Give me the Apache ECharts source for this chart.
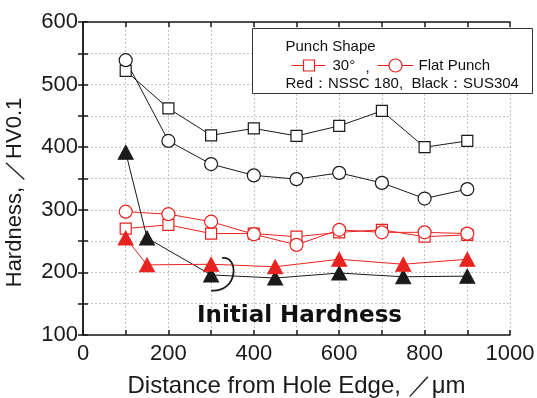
<!DOCTYPE html>
<html>
<head>
<meta charset="utf-8">
<script src="https://cdn.jsdelivr.net/npm/echarts@6/dist/echarts.min.js"></script>
<style>
  html, body { margin: 0; padding: 0; background: #fff; }
  #main { width: 537px; height: 398px; }
</style>
</head>
<body>
<div id="main"></div>
<script>
// distance from hole edge (um)
const xs = [100, 200, 300, 400, 500, 600, 700, 800, 900];
const triX = [100, 150, 300, 450, 600, 750, 900];

// SUS304 (black)
const susSquare = [522, 462, 419, 430, 418, 434, 458, 400, 410];
const susCircle = [539, 410, 373, 355, 349, 359, 343, 318, 333];
const susInitial = [392, 255, 196, 191, 199, 193, 194];

// NSSC 180 (red)
const nsscSquare = [270, 276, 262, 262, 257, 264, 268, 257, 260];
const nsscCircle = [297, 293, 281, 261, 244, 268, 264, 264, 262];
const nsscInitial = [255, 212, 213, 209, 221, 213, 221];

const RED = '#e8231f';
const BLK = '#1a1a1a';
const FONT = 'Liberation Sans, Arial, sans-serif';

function pairs(x, y) {
  return x.map((v, i) => [v, y[i]]);
}

function openSeries(name, xv, yv, symbol, size, color) {
  return {
    name: name, type: 'line', data: pairs(xv, yv),
    symbol: symbol, symbolSize: size,
    lineStyle: { color: color, width: 1 },
    itemStyle: { color: '#fff', borderColor: color, borderWidth: 1.2 },
    z: 3
  };
}

function triSeries(name, yv, color) {
  return {
    name: name, type: 'line', data: pairs(triX, yv),
    symbol: 'triangle', symbolSize: [15, 14],
    lineStyle: { color: color, width: 1 },
    itemStyle: { color: color, borderColor: color },
    z: 4
  };
}

const myChart = echarts.init(document.getElementById('main'), null, { renderer: 'canvas' });

const frameAxis = {
  min: 0, max: 1000, interval: 100,
  axisLine: { show: true, lineStyle: { color: BLK, width: 1.5 } },
  axisTick: { show: true, inside: true, length: 5, lineStyle: { color: BLK, width: 1.5 } },
  axisLabel: { show: false },
  splitLine: { show: false }
};

const option = {
  animation: false,
  backgroundColor: '#fff',
  grid: { left: 83, right: 27, top: 22, bottom: 63, outerBoundsMode: 'none', containLabel: false },
  xAxis: [{
    type: 'value', min: 0, max: 1000, interval: 100,
    name: 'Distance from Hole Edge, ／μm',
    nameLocation: 'middle', nameGap: 39,
    nameTextStyle: { fontFamily: FONT, fontSize: 24, color: BLK },
    axisLine: { show: true, lineStyle: { color: BLK, width: 1.5 } },
    axisTick: { show: true, inside: true, length: 5, lineStyle: { color: BLK, width: 1.5 } },
    axisLabel: {
      fontFamily: FONT, fontSize: 22, color: BLK, margin: 8,
      formatter: v => (v % 200 === 0 ? String(v) : '')
    },
    splitLine: { show: true, lineStyle: { color: '#c4c4c4', type: [2, 2], width: 1 } }
  }, Object.assign({}, frameAxis, { position: 'top' })],
  yAxis: [{
    type: 'value', min: 100, max: 600, interval: 50,
    name: 'Hardness, ／HV0.1',
    nameLocation: 'middle', nameGap: 57,
    nameTextStyle: { fontFamily: FONT, fontSize: 22, color: BLK, padding: [0, 28, 0, 0] },
    axisLine: { show: true, lineStyle: { color: BLK, width: 1.5 } },
    axisTick: { show: true, inside: true, length: 5, lineStyle: { color: BLK, width: 1.5 } },
    axisLabel: {
      fontFamily: FONT, fontSize: 22, color: BLK, margin: 5,
      formatter: v => (v % 100 === 0 ? String(v) : '')
    },
    splitLine: { show: true, lineStyle: { color: '#c4c4c4', type: [2, 2], width: 1 } }
  }, Object.assign({}, frameAxis, { min: 100, max: 600, interval: 50, position: 'right' })],
  series: [
    openSeries('SUS304 30°', xs, susSquare, 'rect', 11, BLK),
    openSeries('SUS304 Flat', xs, susCircle, 'circle', 13, BLK),
    openSeries('NSSC 30°', xs, nsscSquare, 'rect', 11, RED),
    openSeries('NSSC Flat', xs, nsscCircle, 'circle', 13, RED),
    triSeries('SUS304 Initial', susInitial, BLK),
    triSeries('NSSC Initial', nsscInitial, RED)
  ]
};

myChart.setOption(option);

// annotations placed through the chart's own scale
const p = (x, y) => myChart.convertToPixel({ gridIndex: 0 }, [x, y]);
const b0 = p(326, 223), b1 = p(365, 227), b2 = p(365, 168), b3 = p(300, 171);
const lab = p(507, 130);

const legX = 252, legY = 28;
const legTxt = { fontFamily: FONT, fontSize: 15, fill: '#111' };

myChart.setOption({
  graphic: [
    {
      type: 'bezierCurve',
      shape: { x1: b0[0], y1: b0[1], cpx1: b1[0], cpy1: b1[1], cpx2: b2[0], cpy2: b2[1], x2: b3[0], y2: b3[1] },
      style: { stroke: BLK, lineWidth: 1.8, fill: null }, z: 10
    },
    {
      type: 'text', x: lab[0], y: lab[1],
      style: { text: 'Initial Hardness', font: 'bold 23px "DejaVu Sans", sans-serif', fill: '#111', align: 'center', verticalAlign: 'middle' },
      z: 10
    },
    {
      type: 'group', left: legX, top: legY, z: 20,
      children: [
        { type: 'rect', shape: { x: 0, y: 0, width: 280, height: 65 }, style: { fill: '#fff', stroke: '#333', lineWidth: 1 } },
        { type: 'text', x: 33, y: 18, style: Object.assign({ text: 'Punch Shape', verticalAlign: 'middle' }, legTxt) },
        { type: 'line', shape: { x1: 39, y1: 37, x2: 73, y2: 37 }, style: { stroke: RED, lineWidth: 1 } },
        { type: 'rect', shape: { x: 51, y: 31.5, width: 11, height: 11 }, style: { fill: '#fff', stroke: RED, lineWidth: 1.2 } },
        { type: 'text', x: 80, y: 37, style: Object.assign({ text: '30°', verticalAlign: 'middle' }, legTxt) },
        { type: 'text', x: 113, y: 39, style: Object.assign({ text: ',', verticalAlign: 'middle' }, legTxt) },
        { type: 'line', shape: { x1: 125, y1: 37, x2: 161, y2: 37 }, style: { stroke: RED, lineWidth: 1 } },
        { type: 'circle', shape: { cx: 143, cy: 37, r: 6.5 }, style: { fill: '#fff', stroke: RED, lineWidth: 1.2 } },
        { type: 'text', x: 166, y: 37, style: Object.assign({ text: 'Flat Punch', verticalAlign: 'middle' }, legTxt) },
        { type: 'text', x: 33, y: 55, style: Object.assign({ text: 'Red：NSSC 180,  Black：SUS304', verticalAlign: 'middle' }, legTxt) }
      ]
    }
  ]
});
</script>
</body>
</html>
